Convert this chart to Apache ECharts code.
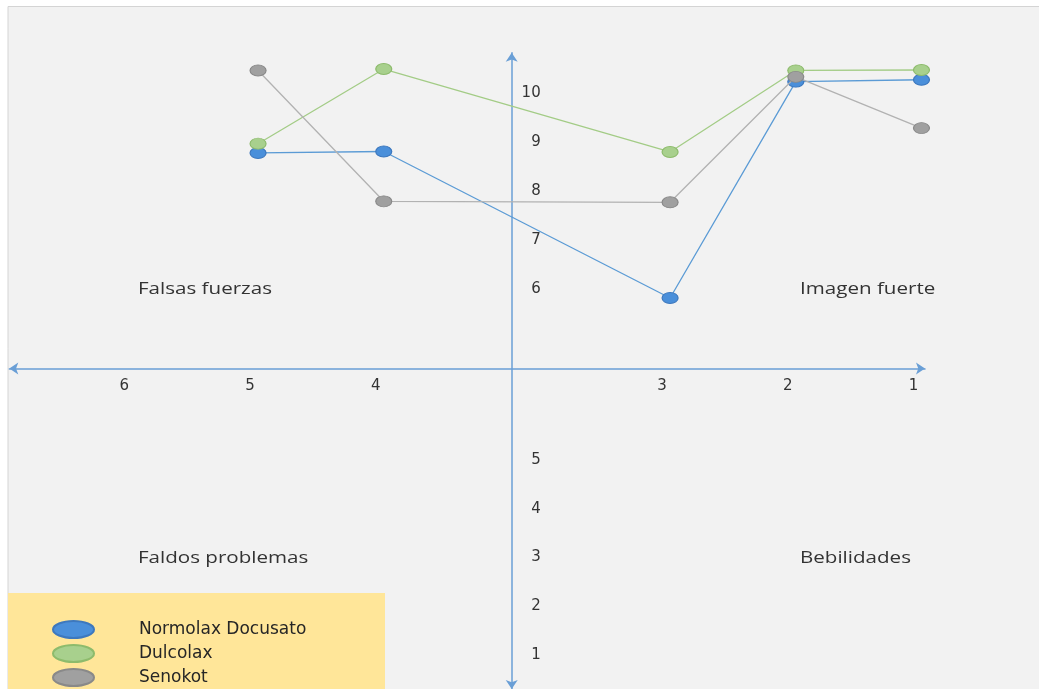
<!DOCTYPE html>
<html>
<head>
<meta charset="utf-8">
<script src="https://cdn.jsdelivr.net/npm/echarts@6/dist/echarts.min.js"></script>
<style>
  html, body { margin: 0; padding: 0; background: #ffffff; }
  #chart { width: 1039px; height: 689px; }
</style>
</head>
<body>
<div id="chart"></div>
<script>
// ---- data ----
const seriesNames = ['Normolax Docusato', 'Dulcolax', 'Senokot'];
const columns = [5, 4, 3, 2, 1];
const normolax = [8.78, 8.81, 5.81, 10.24, 10.28];
const dulcolax = [8.97, 10.5, 8.8, 10.47, 10.48];
const senokot = [10.47, 7.79, 7.77, 10.34, 9.29];
const xTickLabels = [6, 5, 4, 3, 2, 1];
const yTickLabels = [1, 2, 3, 4, 5, 6, 7, 8, 9, 10];
const quadrantLabels = ['Falsas fuerzas', 'Imagen fuerte', 'Faldos problemas', 'Bebilidades'];

// ---- styles ----
const lineColors = ['#5B9BD5', '#A3CC86', '#B2B2B2'];
const markerFill = ['#4A8FDA', '#A8D08D', '#A0A0A0'];
const markerBorder = ['#3D78BE', '#8DBB6C', '#898989'];
const axisColor = '#6A9FD6';
const markerPath = 'path://M0,5.5A8,5.5,0,1,0,16,5.5A8,5.5,0,1,0,0,5.5Z';
const legendPath = 'path://M0,8.5A20.5,8.5,0,1,0,41,8.5A20.5,8.5,0,1,0,0,8.5Z';

const chart = echarts.init(document.getElementById('chart'));

const valueSets = [normolax, dulcolax, senokot];
const series = seriesNames.map((name, s) => ({
  name: name,
  type: 'line',
  xAxisIndex: 0,
  yAxisIndex: 0,
  data: columns.map((c, i) => [c, valueSets[s][i]]),
  symbol: markerPath,
  symbolSize: [16, 11],
  showSymbol: true,
  lineStyle: { color: lineColors[s], width: 1.3 },
  itemStyle: { color: markerFill[s], borderColor: markerBorder[s], borderWidth: 1 },
  emphasis: { disabled: true },
  z: 3 + s
}));

const labelFont = { fontFamily: 'DejaVu Sans', fontSize: 15, color: '#333333' };
const quadFont = { fontFamily: 'Open Sans', fontSize: 17, fill: '#333333' };
const arrowLine = { show: true, onZero: false, symbol: ['arrow', 'arrow'], symbolSize: [9, 9],
                    lineStyle: { color: axisColor, width: 1.5 } };

chart.setOption({
  animation: false,
  backgroundColor: '#ffffff',
  graphic: [
    { type: 'rect', z: -10, silent: true,
      shape: { x: 8, y: 6.5, width: 1040, height: 690 },
      style: { fill: '#F2F2F2', stroke: '#D4D4D4', lineWidth: 1 } },
    { type: 'text', x: 138, y: 289.5, scaleX: 1.21, z: 2,
      style: Object.assign({ text: quadrantLabels[0], verticalAlign: 'middle', align: 'left' }, quadFont) },
    { type: 'text', x: 800, y: 289.5, scaleX: 1.21, z: 2,
      style: Object.assign({ text: quadrantLabels[1], verticalAlign: 'middle', align: 'left' }, quadFont) },
    { type: 'text', x: 138, y: 558, scaleX: 1.21, z: 2,
      style: Object.assign({ text: quadrantLabels[2], verticalAlign: 'middle', align: 'left' }, quadFont) },
    { type: 'text', x: 800, y: 558, scaleX: 1.21, z: 2,
      style: Object.assign({ text: quadrantLabels[3], verticalAlign: 'middle', align: 'left' }, quadFont) }
  ],
  legend: {
    data: seriesNames,
    orient: 'vertical',
    left: 8,
    top: 593,
    height: 200,
    icon: legendPath,
    itemWidth: 41,
    itemHeight: 17,
    itemGap: 5,
    padding: [27, 46, 6, 44],
    backgroundColor: '#FFE699',
    selectedMode: false,
    textStyle: { fontFamily: 'DejaVu Sans', fontSize: 17, color: '#262626', lineHeight: 17,
                 padding: [0, 0, 0, 40], width: 200 }
  },
  grid: { left: 9.3, right: 114, top: 52.7, height: 637.3, containLabel: false },
  xAxis: [{
    type: 'value',
    inverse: true,
    min: 0.972,
    max: 6.979,
    breaks: [{ start: 3.1, end: 3.9, gap: 2.078 }],
    breakArea: { show: false },
    position: 'bottom',
    offset: -320.5,
    axisLine: { show: false },
    axisTick: { show: false },
    splitLine: { show: false },
    axisLabel: Object.assign({ customValues: xTickLabels, margin: 10, padding: [0, 16, 0, 0] }, labelFont)
  }, {
    type: 'value',
    min: 0,
    max: 1,
    position: 'bottom',
    offset: -320.5,
    axisLine: arrowLine,
    axisTick: { show: false },
    splitLine: { show: false },
    axisLabel: { show: false }
  }],
  yAxis: [{
    type: 'value',
    min: 0.305,
    max: 10.834,
    breaks: [{ start: 5.05, end: 5.5, gap: 2.955 }],
    breakArea: { show: false },
    position: 'left',
    offset: -502.4,
    axisLine: { show: false },
    axisTick: { show: false },
    splitLine: { show: false },
    axisLabel: Object.assign({ customValues: yTickLabels, inside: true, align: 'right', margin: 29 }, labelFont)
  }, {
    type: 'value',
    min: 0,
    max: 1,
    position: 'left',
    offset: -502.4,
    axisLine: arrowLine,
    axisTick: { show: false },
    splitLine: { show: false },
    axisLabel: { show: false }
  }],
  series: series
});
</script>
</body>
</html>
